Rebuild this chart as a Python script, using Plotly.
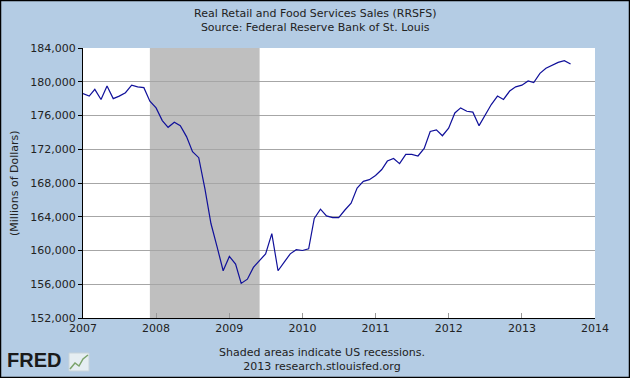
import plotly.graph_objects as go
import pandas as pd

title_lines = ["Real Retail and Food Services Sales (RRSFS)", "Source: Federal Reserve Bank of St. Louis"]
y_title = "(Millions of Dollars)"
start_month = "2007-01-01"
sales = [
    178600, 178300, 179100, 177900, 179500, 178000, 178300, 178700, 179600, 179400,
    179300, 177700, 176900, 175400, 174600, 175200, 174800, 173500, 171700, 171000,
    167300, 163200, 160400, 157600, 159300, 158400, 156100, 156600, 158000, 158800,
    159600, 162000, 157600, 158600, 159600, 160100, 160000, 160200, 163800, 164900,
    164100, 163900, 163900, 164800, 165600, 167400, 168200, 168400, 168900, 169600,
    170600, 170900, 170300, 171400, 171400, 171200, 172100, 174100, 174300, 173600,
    174500, 176300, 176900, 176500, 176400, 174800, 176000, 177300, 178300, 177900,
    178900, 179400, 179600, 180100, 179900, 181000, 181600, 182000, 182300, 182500,
    182100,
]
recession = ("2007-12-01", "2009-06-01")
year_ticks = ["2007-01-01", "2008-01-01", "2009-01-01", "2010-01-01", "2011-01-01",
              "2012-01-01", "2013-01-01", "2014-01-01"]
year_labels = ["2007", "2008", "2009", "2010", "2011", "2012", "2013", "2014"]
y_ticks = [152000, 156000, 160000, 164000, 168000, 172000, 176000, 180000, 184000]
footer_lines = ["Shaded areas indicate US recessions.", "2013 research.stlouisfed.org"]

dates = pd.date_range(start_month, periods=len(sales), freq="MS")

W, H = 630, 378
ML, MR, MT, MB = 83, 35, 48, 60
PW, PH = W - ML - MR, H - MT - MB

def px(x):
    return (x - ML) / PW

def py(y):
    return (H - MB - y) / PH

font = "DejaVu Sans, Verdana, sans-serif"
fig = go.Figure()
fig.add_trace(go.Scatter(x=dates, y=sales, mode="lines",
                         line=dict(color="#10109a", width=1.2), hoverinfo="skip",
                         showlegend=False))

fig.add_shape(type="rect", xref="x", yref="paper", x0=recession[0], x1=recession[1],
              y0=0, y1=1, fillcolor="#bfbfbf", line=dict(width=0), layer="below")
# outer border
fig.add_shape(type="rect", xref="paper", yref="paper", x0=px(0.5), x1=px(W - 0.5),
              y0=py(H - 0.5), y1=py(0.5), line=dict(color="#000000", width=1.5))
# small logo icon next to FRED
fig.add_shape(type="rect", xref="paper", yref="paper", x0=px(69), x1=px(89),
              y0=py(371), y1=py(353), fillcolor="#e6eef2", line=dict(color="#c8d4da", width=1))
fig.add_shape(type="path", xref="paper", yref="paper",
              path="M %f,%f L %f,%f L %f,%f L %f,%f L %f,%f" % (
                  px(70), py(369), px(75), py(363), px(79), py(366), px(83), py(359), px(88), py(355)),
              line=dict(color="#7aa36a", width=1.5))

ann = []
ann.append(dict(text="<br>".join(title_lines), x=px(315), y=py(5), xref="paper", yref="paper",
                xanchor="center", yanchor="top", showarrow=False,
                font=dict(family=font, size=11, color="#222222")))
ann.append(dict(text="<br>".join(footer_lines), x=px(322), y=py(344), xref="paper", yref="paper",
                xanchor="center", yanchor="top", showarrow=False,
                font=dict(family=font, size=11, color="#222222")))
ann.append(dict(text="<b>FRED</b>", x=px(5), y=py(373), xref="paper", yref="paper",
                xanchor="left", yanchor="bottom", showarrow=False,
                font=dict(family="Liberation Sans, Arial, sans-serif", size=20, color="#1a1a1a")))
ann.append(dict(text=y_title, x=px(14), y=0.5, xref="paper", yref="paper", textangle=-90,
                xanchor="center", yanchor="middle", showarrow=False,
                font=dict(family=font, size=11, color="#222222")))
fig.update_layout(annotations=ann)

fig.update_layout(
    width=W, height=H,
    margin=dict(l=ML, r=MR, t=MT, b=MB, pad=0),
    paper_bgcolor="#b4cce4", plot_bgcolor="#ffffff",
    font=dict(family=font, size=11, color="#222222"),
    xaxis=dict(range=[year_ticks[0], year_ticks[-1]], tickvals=year_ticks, ticktext=year_labels,
               showgrid=False, zeroline=False, showline=True, linecolor="#000000", linewidth=1,
               ticks="inside", ticklen=5, tickcolor="#999999", tickfont=dict(size=11)),
    yaxis=dict(range=[152000, 184000], tickvals=y_ticks, tickformat=",d",
               showgrid=True, gridcolor="#a6a6a6", gridwidth=1, zeroline=False,
               showline=True, linecolor="#000000", linewidth=1,
               ticks="outside", ticklen=4, tickcolor="#000000", tickfont=dict(size=11)),
)
fig.write_html("out.html", config={"displayModeBar": False, "staticPlot": True})

with open("out.html", "r", encoding="utf-8") as f:
    html = f.read()
html = html.replace("<head>", "<head><style>html,body{margin:0;padding:0;overflow:hidden;}</style>", 1)
with open("out.html", "w", encoding="utf-8") as f:
    f.write(html)
